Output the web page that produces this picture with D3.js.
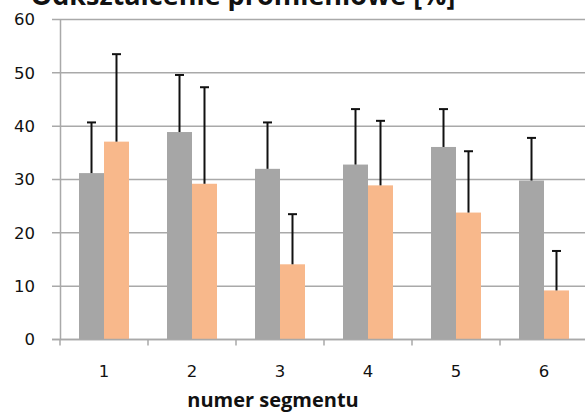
<!DOCTYPE html>
<html>
<head>
<meta charset="utf-8">
<script src="https://cdn.jsdelivr.net/npm/d3@7"></script>
<style>
  html, body { margin: 0; padding: 0; background: #fff; }
  svg { display: block; }
</style>
</head>
<body>
<svg id="chart" width="585" height="412"></svg>
<script>
const categories = ["1", "2", "3", "4", "5", "6"];
const seriesGray = [31.2, 38.9, 32.0, 32.8, 36.1, 29.8];
const errGray = [9.5, 10.7, 8.7, 10.4, 7.1, 8.0];
const seriesOrange = [37.1, 29.2, 14.1, 28.9, 23.8, 9.2];
const errOrange = [16.4, 18.1, 9.4, 12.1, 11.5, 7.4];
const yTicks = [0, 10, 20, 30, 40, 50, 60];
const titleText = "Odkształcenie promieniowe [%]";
const xTitleText = "numer segmentu";

const svg = d3.select("#chart");
const mLeft = 60, mRight = 588, mTop = 19.5, mBottom = 339.5;

const x0 = d3.scaleBand().domain(categories).range([mLeft, mRight])
  .paddingInner(0.432).paddingOuter(0.216);
const x1 = d3.scaleBand().domain(["gray", "orange"]).range([0, x0.bandwidth()]);
const y = d3.scaleLinear().domain([0, 60]).range([mBottom, mTop]);

const colors = { gray: "#a6a6a6", orange: "#f8b88b" };
const gridColor = "#a9a9a9";

// gridlines
svg.append("g").selectAll("line").data(yTicks).join("line")
  .attr("x1", 52).attr("x2", 585)
  .attr("y1", d => y(d)).attr("y2", d => y(d))
  .attr("stroke", gridColor).attr("stroke-width", 1.5);

// y axis
const yAxis = svg.append("g").attr("transform", `translate(${mLeft},0)`)
  .call(d3.axisLeft(y).tickValues(yTicks).tickSize(0).tickPadding(25));
yAxis.select(".domain").attr("stroke", gridColor).attr("stroke-width", 1.5);
yAxis.selectAll("text").attr("font-family", "DejaVu Sans").attr("font-size", 16.5)
  .attr("fill", "#111");

// data rows
const rows = categories.map((c, i) => ({
  c,
  bars: [
    { key: "gray", v: seriesGray[i], e: errGray[i] },
    { key: "orange", v: seriesOrange[i], e: errOrange[i] }
  ]
}));

const groups = svg.append("g").selectAll("g").data(rows).join("g")
  .attr("transform", d => `translate(${x0(d.c)},0)`);

groups.selectAll("rect").data(d => d.bars).join("rect")
  .attr("x", d => x1(d.key)).attr("width", x1.bandwidth())
  .attr("y", d => y(d.v)).attr("height", d => y(0) - y(d.v))
  .attr("fill", d => colors[d.key]);

// error bars
groups.selectAll("g.err").data(d => d.bars).join("g").attr("class", "err")
  .each(function(d) {
    const g = d3.select(this);
    const cx = x1(d.key) + x1.bandwidth() / 2;
    g.append("line").attr("x1", cx).attr("x2", cx)
      .attr("y1", y(d.v)).attr("y2", y(d.v + d.e))
      .attr("stroke", "#111").attr("stroke-width", 2);
    g.append("line").attr("x1", cx - 4.5).attr("x2", cx + 4.5)
      .attr("y1", y(d.v + d.e)).attr("y2", y(d.v + d.e))
      .attr("stroke", "#111").attr("stroke-width", 2);
  });

// x axis
const xAxisG = svg.append("g").attr("transform", `translate(0,${mBottom})`);
xAxisG.append("line").attr("x1", 52).attr("x2", 585).attr("y1", 0).attr("y2", 0)
  .attr("stroke", gridColor).attr("stroke-width", 1.5);
const boundaries = categories.map(c => x0(c) - x0.step() * x0.paddingOuter());
xAxisG.selectAll("line.tk").data(boundaries).join("line").attr("class", "tk")
  .attr("x1", d => d).attr("x2", d => d).attr("y1", 0).attr("y2", 6)
  .attr("stroke", gridColor).attr("stroke-width", 1.5);
xAxisG.selectAll("text").data(categories).join("text")
  .attr("x", d => x0(d) + x0.bandwidth() / 2).attr("y", 37.5)
  .attr("text-anchor", "middle").attr("font-family", "DejaVu Sans").attr("font-size", 16.5)
  .attr("fill", "#111").text(d => d);

// axis title
svg.append("text").attr("x", 273).attr("y", 407).attr("text-anchor", "middle")
  .attr("font-family", "Open Sans").attr("font-weight", 700).attr("font-size", 20)
  .attr("fill", "#111").text(xTitleText);

// chart title (clipped at top, as in the reference)
svg.append("text").attr("x", 243).attr("y", 5).attr("text-anchor", "middle")
  .attr("font-family", "Open Sans").attr("font-weight", 700).attr("font-size", 27)
  .attr("fill", "#111").text(titleText);
</script>
</body>
</html>
